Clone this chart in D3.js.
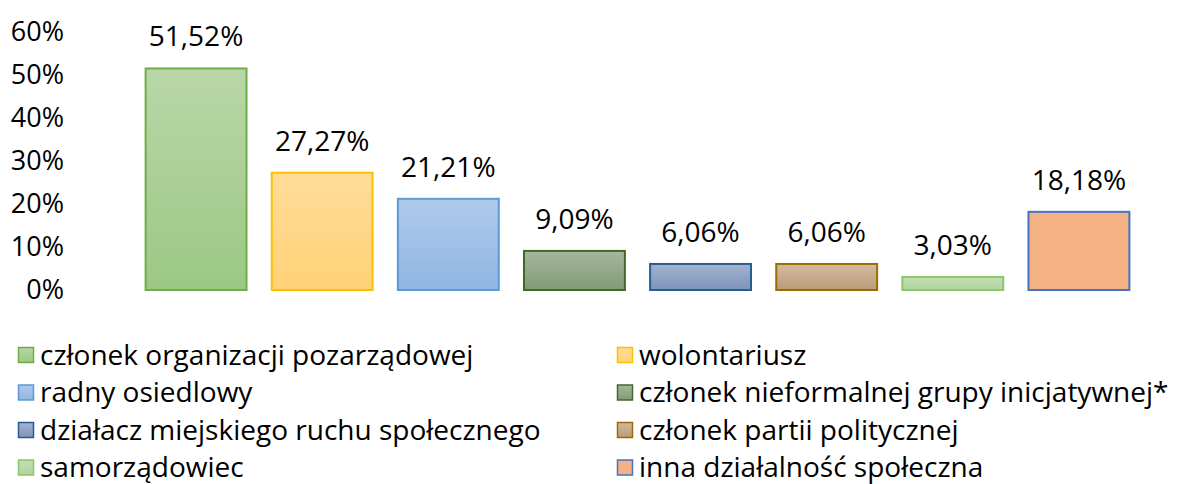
<!DOCTYPE html>
<meta charset="utf-8">
<body style="margin:0;background:#fff">
<div id="chart"></div>
</body>
<script src="https://cdn.jsdelivr.net/npm/d3@7"></script>
<script>
// data
var categories = ["członek organizacji pozarządowej", "wolontariusz", "radny osiedlowy",
	"członek nieformalnej grupy inicjatywnej*", "działacz miejskiego ruchu społecznego",
	"członek partii politycznej", "samorządowiec", "inna działalność społeczna"];
var values = [51.52, 27.27, 21.21, 9.09, 6.06, 6.06, 3.03, 18.18];
var yTicks = [0, 10, 20, 30, 40, 50, 60];

// colours: [top of gradient, bottom of gradient, border]
var fills = [
	["#b8d7a9", "#9cc883", "#70ad47"],
	["#ffdc9a", "#ffd277", "#ffc000"],
	["#b0caeb", "#8fb5e3", "#5b9bd5"],
	["#a7b69e", "#819b73", "#43682b"],
	["#a3b3ce", "#7f94ba", "#255e91"],
	["#d3bba1", "#bb9b77", "#9c6b00"],
	["#c3dfb4", "#b0d59d", "#8cc56b"],
	["#f4b183", "#f4b183", "#4472c4"]
];

var width = 1180, height = 484;
var font = "'Open Sans', sans-serif";

var svg = d3.select("#chart").append("svg")
	.attr("width", width)
	.attr("height", height)
	.style("font-family", font);

var x = d3.scaleBand()
	.domain(categories)
	.range([133, 1142])
	.paddingInner(0.2)
	.paddingOuter(0.1);

var y = d3.scaleLinear()
	.domain([0, 60])
	.range([290, 32]);

// gradients for the bars
var defs = svg.append("defs");
fills.forEach(function (c, i) {
	var g = defs.append("linearGradient")
		.attr("id", "grad" + i)
		.attr("x1", 0).attr("y1", 0).attr("x2", 0).attr("y2", 1);
	g.append("stop").attr("offset", "0%").attr("stop-color", c[0]);
	g.append("stop").attr("offset", "100%").attr("stop-color", c[1]);
});

// y axis labels, no line
var yAxis = svg.append("g")
	.attr("transform", "translate(64,0)")
	.call(d3.axisLeft(y).tickValues(yTicks).tickSize(0).tickPadding(0)
		.tickFormat(function (d) { return d + "%"; }));
yAxis.select(".domain").remove();
yAxis.selectAll("text")
	.style("font-family", font)
	.style("font-size", "27px")
	.attr("fill", "#000");

// bars
svg.selectAll("rect.bar")
	.data(values)
	.enter().append("rect")
	.attr("class", "bar")
	.attr("x", function (d, i) { return x(categories[i]); })
	.attr("y", function (d) { return y(d); })
	.attr("width", x.bandwidth())
	.attr("height", function (d) { return y(0) - y(d); })
	.attr("fill", function (d, i) { return "url(#grad" + i + ")"; })
	.attr("stroke", function (d, i) { return fills[i][2]; })
	.attr("stroke-width", 2);

// value labels
svg.selectAll("text.val")
	.data(values)
	.enter().append("text")
	.attr("class", "val")
	.attr("x", function (d, i) { return x(categories[i]) + x.bandwidth() / 2; })
	.attr("y", function (d) { return y(d) - 22; })
	.attr("text-anchor", "middle")
	.style("font-size", "28px")
	.text(function (d) { return d.toFixed(2).replace(".", ",") + "%"; });

// legend, two columns
var legend = svg.selectAll("g.leg")
	.data(categories)
	.enter().append("g")
	.attr("class", "leg")
	.attr("transform", function (d, i) {
		var col = i % 2, row = Math.floor(i / 2);
		return "translate(" + (col ? 617 : 18) + "," + (355 + row * 37.5) + ")";
	});

legend.append("rect")
	.attr("x", 0.5)
	.attr("y", -7.5)
	.attr("width", 15)
	.attr("height", 15)
	.attr("fill", function (d, i) { return "url(#grad" + i + ")"; })
	.attr("stroke", function (d, i) { return fills[i][2]; })
	.attr("stroke-width", 1.5);

legend.append("text")
	.attr("x", 22)
	.attr("y", 0)
	.attr("dy", "0.35em")
	.style("font-size", "28px")
	.text(function (d) { return d; });
</script>
